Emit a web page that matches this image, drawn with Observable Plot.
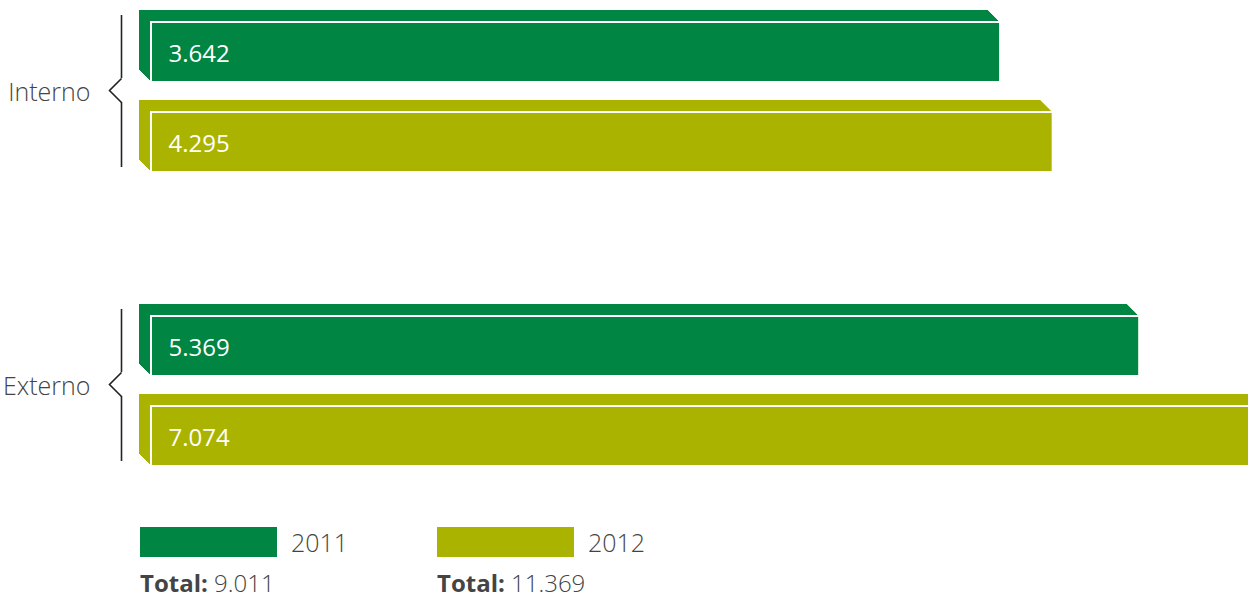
<!DOCTYPE html>
<html>
<head>
<meta charset="utf-8">
<script src="https://cdn.jsdelivr.net/npm/d3@7"></script>
<script src="https://cdn.jsdelivr.net/npm/@observablehq/plot@0.6"></script>
<style>
  html, body { margin: 0; padding: 0; overflow: hidden; background: #fff; width: 1248px; height: 598px; }
  #chart svg { display: block; }
  #legend { font-family: "Open Sans", sans-serif; color: #444; padding-left: 140px; margin-top: 27px; }
  #legend .row { display: flex; }
  #legend .cell { width: 297px; display: flex; align-items: center; }
  #legend .sw { width: 137px; height: 30px; display: inline-block; }
  #legend .lab { font-size: 25px; font-weight: 300; margin-left: 14px; line-height: 30px; }
  #legend .tot { font-size: 24px; font-weight: 300; line-height: 28px; margin-top: 12px; }
  #legend .tot b { font-weight: 700; }
</style>
</head>
<body>
<div id="chart"></div>
<div id="legend"></div>
<script>
const categories = ["Interno", "Externo"];
const years = ["2011", "2012"];
const values2011 = [3642, 5369];
const values2012 = [4295, 7074];
const colors = ["#008542", "#AAB400"];
const xDomain = [-6900, 6720];

const fmt = d3.formatLocale({decimal: ",", thousands: ".", grouping: [3], currency: ["", ""]}).format(",d");
const series = [values2011, values2012];
const rows = categories.flatMap((c, i) => years.map((y, j) => ({group: c, year: y, value: series[j][i]})));
const braceRows = categories.map(c => ({group: c}));
const base = xDomain[0];
const depth = 12;

const layers = d3.range(depth, 0, -1).map(k => Plot.barX(rows, {
  x1: () => base, x2: "value", y: "year", fy: "group", fill: "year", dx: -k, dy: -k
}));

const chevron = {
  draw(context) {
    context.moveTo(0, -12);
    context.lineTo(-12, 0);
    context.lineTo(0, 12);
  }
};

const svg = Plot.plot({
  width: 1248,
  height: 500,
  marginTop: 22,
  marginBottom: 34,
  marginLeft: 151,
  marginRight: 0,
  style: {fontFamily: "'Open Sans', sans-serif", background: "white"},
  x: {domain: xDomain, axis: null},
  y: {domain: years, paddingInner: 1/3, paddingOuter: 0, axis: null},
  fy: {domain: categories, paddingInner: 0.49, paddingOuter: 0, axis: null},
  color: {domain: years, range: colors},
  marks: [
    ...layers,
    Plot.barX(rows, {x1: () => base, x2: "value", y: "year", fy: "group", fill: "year",
      stroke: "white", strokeWidth: 2, ariaLabel: "front"}),
    Plot.text(rows, {x: () => base, y: "year", fy: "group", text: d => fmt(d.value),
      dx: 17, dy: 2, textAnchor: "start", fill: "white", fontSize: 24, fontWeight: 400}),
    Plot.ruleX(braceRows, {x: () => base, y1: () => "2011", y2: () => "2011", fy: "group",
      dx: -30, insetTop: -7, insetBottom: 4, stroke: "#222", strokeWidth: 1.6}),
    Plot.ruleX(braceRows, {x: () => base, y1: () => "2012", y2: () => "2012", fy: "group",
      dx: -30, insetTop: -10, insetBottom: 5, stroke: "#222", strokeWidth: 1.6}),
    Plot.dot(braceRows, {x: () => base, fy: "group", dx: -30, dy: -7, r: 5, symbol: chevron,
      fill: "none", stroke: "#222", strokeWidth: 1.6}),
    Plot.text(braceRows, {x: () => base, fy: "group", text: "group", dx: -61, dy: -5,
      textAnchor: "end", fill: "#444", fontSize: 25, fontWeight: 300})
  ]
});

svg.querySelectorAll('g[aria-label="front"] rect').forEach(r => {
  const x = +r.getAttribute("x"), y = +r.getAttribute("y");
  const line = document.createElementNS("http://www.w3.org/2000/svg", "line");
  line.setAttribute("x1", x - depth);
  line.setAttribute("y1", y - depth);
  line.setAttribute("x2", x);
  line.setAttribute("y2", y);
  line.setAttribute("stroke", "white");
  line.setAttribute("stroke-width", 2);
  r.parentNode.appendChild(line);
});

document.getElementById("chart").appendChild(svg);

const legend = document.getElementById("legend");
const row1 = document.createElement("div"); row1.className = "row";
const row2 = document.createElement("div"); row2.className = "row";
years.forEach((y, j) => {
  const c1 = document.createElement("div"); c1.className = "cell";
  c1.innerHTML = `<span class="sw" style="background:${colors[j]}"></span><span class="lab">${y}</span>`;
  row1.appendChild(c1);
  const c2 = document.createElement("div"); c2.className = "cell tot";
  c2.innerHTML = `<b>Total:</b>&nbsp;${fmt(d3.sum(series[j]))}`;
  row2.appendChild(c2);
});
legend.appendChild(row1);
legend.appendChild(row2);
</script>
</body>
</html>
